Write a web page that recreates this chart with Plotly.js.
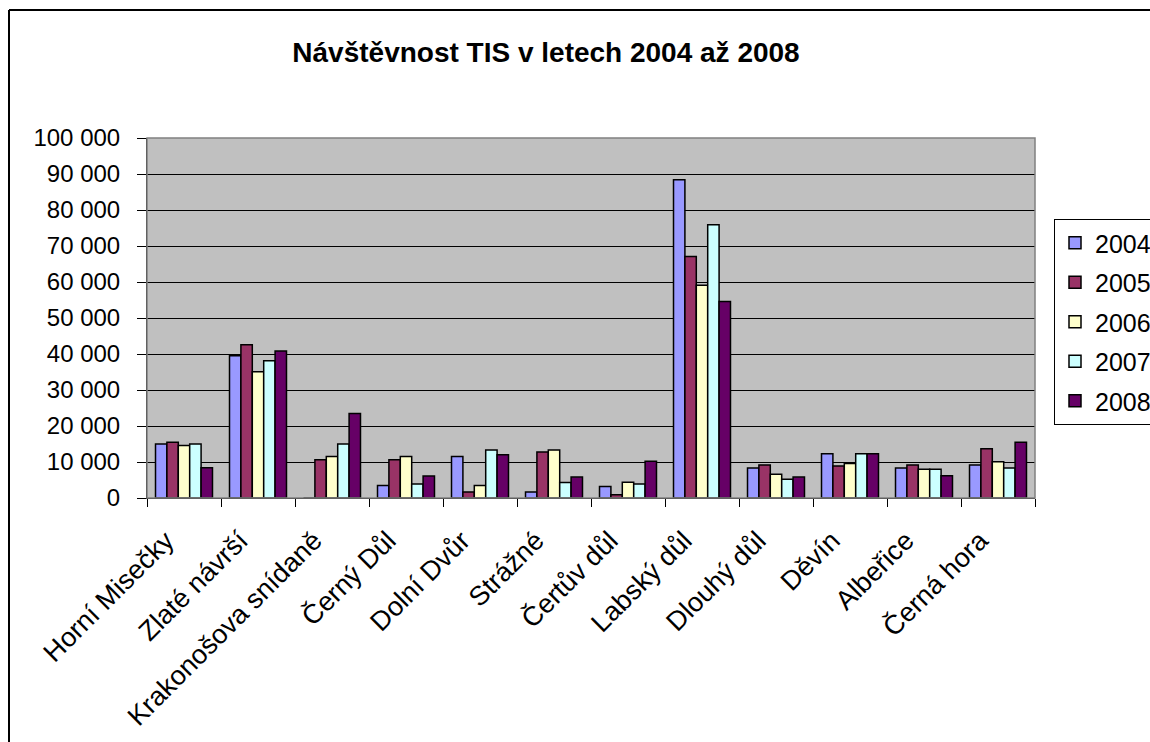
<!DOCTYPE html>
<html>
<head>
<meta charset="utf-8">
<script src="https://cdn.plot.ly/plotly-3.0.1.min.js"></script>
<style>html,body{margin:0;padding:0;background:#fff;overflow:hidden;width:1150px;height:742px;}#chart{width:1150px;height:742px;overflow:hidden;}</style>
</head>
<body>
<div id="chart"></div>
<script>
const categories = ["Horní Misečky","Zlaté návrší","Krakonošova snídaně","Černý Důl","Dolní Dvůr","Strážné","Čertův důl","Labský důl","Dlouhý důl","Děvín","Albeřice","Černá hora"];
const years = ["2004","2005","2006","2007","2008"];
const v2004 = [15000, 39500, 0, 3500, 11500, 1700, 3200, 88400, 8300, 12300, 8300, 9200];
const v2005 = [15500, 42600, 10600, 10600, 1700, 12800, 900, 67100, 9200, 8900, 9200, 13700];
const v2006 = [14600, 35100, 11500, 11500, 3500, 13300, 4400, 59100, 6600, 9600, 8000, 10100];
const v2007 = [15000, 38100, 15000, 3900, 13300, 4300, 3900, 75900, 5200, 12300, 8000, 8300];
const v2008 = [8400, 40800, 23500, 6100, 12000, 5800, 10200, 54600, 5800, 12300, 6200, 15500];
const series = [v2004, v2005, v2006, v2007, v2008];
const colors = ["#9999FF", "#993366", "#FFFFCC", "#CCFFFF", "#660066"];
const yTicks = [0,10000,20000,30000,40000,50000,60000,70000,80000,90000,100000];

const FONT = "Liberation Sans, Arial, sans-serif";
const traces = series.map((vals, i) => ({
  type: "bar",
  name: years[i],
  x: categories,
  y: vals,
  legendgroup: "g" + i,
  marker: {color: colors[i], line: {color: "#000000", width: 1.5}}
}));

const W = 1150, H = 742;
const L = 147, R = 1035, T = 138, B = 498;
const pw = R - L, ph = B - T;
const px = v => (v - L) / pw;
const py = v => (B - v) / ph;

const layout = {
  width: W, height: H,
  margin: {l: L, r: W - R, t: T, b: H - B, pad: 0},
  paper_bgcolor: "#FFFFFF",
  plot_bgcolor: "#C0C0C0",
  separators: ", ",
  font: {family: FONT, size: 24, color: "#000000"},
  title: {
    text: "<b>Návštěvnost TIS v letech 2004 až 2008</b>",
    font: {family: FONT, size: 28, color: "#000000"},
    x: 546 / W, xanchor: "center", xref: "container",
    y: 1 - 52 / H, yanchor: "middle", yref: "container"
  },
  barmode: "group",
  bargap: 0.23,
  bargroupgap: 0,
  xaxis: {
    type: "category",
    tickangle: -45,
    ticks: "outside",
    tickson: "boundaries",
    ticklen: 8,
    tickcolor: "#000000",
    showline: true, linecolor: "#000000", linewidth: 1,
    showgrid: false,
    ticklabelstandoff: 15,
    ticklabelshift: -18,
    tickfont: {family: FONT, size: 27, color: "#000000"},
    automargin: false
  },
  yaxis: {
    range: [0, 100000],
    tickvals: yTicks,
    tickformat: ",d",
    ticks: "outside",
    ticklen: 9,
    tickcolor: "#000000",
    showline: true, linecolor: "#000000", linewidth: 1,
    showgrid: true, gridcolor: "#000000", gridwidth: 1,
    zeroline: false,
    ticklabelstandoff: 12,
    tickfont: {family: FONT, size: 24, color: "#000000"},
    automargin: false
  },
  legend: {
    xref: "container", yref: "container",
    x: 1054 / W, y: 1 - 219 / H, xanchor: "left", yanchor: "top",
    bgcolor: "#FFFFFF", bordercolor: "#000000", borderwidth: 1,
    font: {family: FONT, size: 25, color: "#000000"},
    traceorder: "grouped",
    tracegroupgap: 4
  },
  shapes: [
    {type: "rect", xref: "paper", yref: "paper", x0: 0, x1: 1, y0: 0, y1: 1,
     line: {color: "#808080", width: 1.5}, fillcolor: "rgba(0,0,0,0)", layer: "above"},
    {type: "line", xref: "paper", yref: "paper", x0: px(9), x1: px(9), y0: py(10), y1: py(760),
     line: {color: "#000000", width: 2}},
    {type: "line", xref: "paper", yref: "paper", x0: px(9), x1: px(1160), y0: py(10), y1: py(10),
     line: {color: "#000000", width: 2}}
  ]
};

Plotly.newPlot("chart", traces, layout, {displayModeBar: false, staticPlot: true});
</script>
</body>
</html>
